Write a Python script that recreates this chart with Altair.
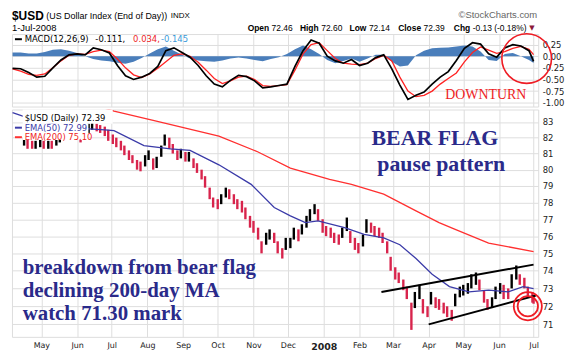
import altair as alt
import pandas as pd

# ---------------- data ----------------
# price bars: two per week (Mondays & Thursdays) 16-Apr-2007 .. 30-Jun-2008, plus 1-Jul-2008
closes = [
    81.8, 81.6, 81.5, 81.6, 81.6,
    81.5, 81.6, 81.5, 81.7, 82.0, 82.1, 82.3, 82.2, 82.2,
    82.0, 82.5, 82.6, 82.8, 82.7, 82.6, 82.5, 82.1,
    81.9, 81.7, 81.5, 81.2, 80.9, 80.6, 80.3, 80.1, 80.6,
    81.0, 80.2, 80.5, 81.2, 82.0, 81.6, 81.3, 80.9, 81.0,
    80.8, 80.8, 80.4, 80.1, 79.7, 79.2, 78.5, 78.0,
    77.9, 78.2, 78.7, 78.5, 78.2, 77.9, 77.8, 77.3, 76.8,
    76.6, 76.1, 75.3, 75.9, 76.1, 75.9, 75.3, 74.9, 75.6,
    75.6, 76.2, 76.0, 76.4, 76.9, 77.2, 77.7, 77.2, 76.6,
    76.3, 76.2, 75.9, 75.8, 76.2, 76.8, 75.9, 75.6, 75.3,
    75.8, 76.6, 76.5, 76.3, 76.2, 75.9, 75.4, 74.4,
    73.9, 73.6, 73.2, 72.8, 71.4, 72.4, 72.9, 72.0, 71.7,
    72.5, 72.2, 72.1, 71.9, 71.7, 71.5, 72.4, 72.8,
    72.9, 73.0, 73.4, 73.5, 73.2, 72.6, 72.1, 72.2, 72.8,
    73.0, 72.9, 72.7, 73.4, 73.9, 73.5, 73.3, 72.8, 72.5,
    72.39,
]
lows = [
    81.5, 81.3, 81.3, 81.3, 81.4,
    81.3, 81.3, 81.3, 81.5, 81.7, 81.9, 82.0, 82.0, 81.9,
    81.7, 82.0, 82.3, 82.5, 82.4, 82.3, 82.1, 81.8,
    81.6, 81.4, 81.2, 80.9, 80.6, 80.4, 80.0, 79.9, 80.2,
    80.6, 80.0, 80.1, 80.8, 81.5, 81.3, 81.0, 80.6, 80.7,
    80.5, 80.5, 80.1, 79.8, 79.4, 78.9, 78.2, 77.7,
    77.6, 77.9, 78.3, 78.2, 77.9, 77.6, 77.4, 77.0, 76.5,
    76.2, 75.8, 75.0, 75.5, 75.8, 75.6, 75.0, 74.7, 75.2,
    75.3, 75.8, 75.7, 76.1, 76.5, 76.9, 77.3, 76.9, 76.2,
    76.0, 75.9, 75.6, 75.5, 75.9, 76.3, 75.6, 75.2, 75.0,
    75.4, 76.2, 76.2, 76.0, 75.9, 75.6, 75.0, 74.0,
    73.5, 73.3, 72.9, 72.4, 70.7, 71.9, 72.4, 71.6, 71.4,
    72.1, 71.9, 71.8, 71.6, 71.4, 71.2, 72.0, 72.5,
    72.6, 72.7, 73.0, 73.2, 72.9, 72.2, 71.8, 71.9, 72.4,
    72.7, 72.4, 72.4, 73.0, 73.5, 73.2, 73.0, 72.5, 72.2,
    72.14,
]
highs = [
    82.0, 81.9, 81.8, 81.8, 81.9,
    81.8, 81.8, 81.8, 82.0, 82.2, 82.4, 82.5, 82.5, 82.4,
    82.3, 82.7, 82.9, 83.0, 82.9, 82.8, 82.7, 82.5,
    82.2, 82.0, 81.8, 81.5, 81.2, 80.9, 80.6, 80.5, 80.9,
    81.2, 80.7, 80.8, 81.5, 82.2, 82.0, 81.6, 81.2, 81.3,
    81.1, 81.1, 80.7, 80.4, 80.0, 79.6, 78.9, 78.3,
    78.2, 78.5, 78.9, 78.8, 78.5, 78.2, 78.1, 77.7, 77.2,
    76.9, 76.5, 75.7, 76.2, 76.4, 76.2, 75.7, 75.3, 75.9,
    75.9, 76.5, 76.4, 76.7, 77.2, 77.6, 77.9, 77.6, 77.0,
    76.6, 76.5, 76.2, 76.1, 76.5, 77.1, 76.3, 75.9, 75.6,
    76.1, 77.0, 76.8, 76.6, 76.5, 76.2, 75.7, 74.8,
    74.2, 73.9, 73.5, 73.1, 72.2, 72.8, 73.2, 72.4, 72.0,
    72.8, 72.5, 72.4, 72.2, 72.0, 71.8, 72.7, 73.1,
    73.2, 73.3, 73.8, 73.9, 73.5, 72.9, 72.4, 72.5, 73.1,
    73.3, 73.2, 73.0, 73.8, 74.3, 73.8, 73.6, 73.1, 72.8,
    72.60,
]

ema50_dates = ["2007-04-06", "2007-04-18", "2007-05-09", "2007-06-01", "2007-06-25", "2007-07-03",
               "2007-07-29", "2007-08-21", "2007-09-07", "2007-10-02", "2007-10-30", "2007-11-19",
               "2007-12-03", "2007-12-16", "2007-12-27", "2008-01-19", "2008-02-05", "2008-02-22",
               "2008-03-07", "2008-03-21", "2008-04-04", "2008-04-19", "2008-05-06", "2008-05-23",
               "2008-06-09", "2008-06-22", "2008-07-01"]
ema50_vals = [83.6, 83.3, 82.9, 82.6, 82.5, 82.45, 81.5, 81.3, 81.2, 80.3, 79.1, 77.7,
              77.2, 76.8, 76.9, 76.5, 76.1, 75.9, 75.5, 74.7, 73.8, 73.1, 72.8, 72.9,
              72.8, 73.1, 72.99]

ema200_dates = ["2007-04-06", "2007-06-20", "2007-07-03", "2007-08-06", "2007-10-02", "2007-11-05",
                "2007-12-03", "2008-01-06", "2008-01-25", "2008-02-22", "2008-03-21", "2008-04-10",
                "2008-04-24", "2008-05-23", "2008-07-01"]
ema200_vals = [84.7, 84.0, 83.7, 83.1, 82.1, 81.1, 80.1, 79.4, 79.1, 78.5, 77.5, 76.8,
               76.4, 75.6, 75.1]

# MACD panel: weekly (Fridays 6-Apr-2007 .. 27-Jun-2008) plus 1-Jul-2008
macd_vals = [-0.26, -0.27, -0.35, -0.45, -0.43, -0.25, -0.08, 0.03, 0.05, 0.03, 0.18, 0.14,
             0.07, -0.20, -0.42, -0.50, -0.45, -0.37, -0.22, 0.12, 0.18, 0.08, -0.02, -0.20,
             -0.42, -0.60, -0.66, -0.52, -0.41, -0.44, -0.53, -0.68, -0.66, -0.63, -0.60, -0.22,
             0.12, 0.35, 0.28, 0.00, -0.10, -0.15, -0.07, -0.20, -0.15, -0.03, 0.03, -0.27,
             -0.62, -0.93, -0.84, -0.77, -0.60, -0.45, -0.33, -0.09, 0.17, 0.29, 0.26, 0.05,
             -0.02, 0.18, 0.25, 0.22, 0.12, -0.111]
signal_vals = [-0.27, -0.32, -0.39, -0.41, -0.38, -0.25, -0.10, 0.02, 0.05, 0.04, 0.10, 0.13,
               0.10, -0.06, -0.25, -0.40, -0.46, -0.38, -0.26, -0.12, 0.02, 0.05, 0.00, -0.13,
               -0.30, -0.48, -0.59, -0.53, -0.45, -0.43, -0.50, -0.63, -0.65, -0.63, -0.61, -0.30,
               0.05, 0.25, 0.29, 0.12, -0.05, -0.15, -0.17, -0.18, -0.15, -0.05, 0.02, -0.10,
               -0.45, -0.75, -0.87, -0.84, -0.75, -0.60, -0.48, -0.36, -0.12, 0.08, 0.20, 0.13,
               0.06, 0.10, 0.17, 0.21, 0.15, 0.034]
hist_vals = [0.08, 0.08, 0.06, 0.06, 0.09, 0.14, 0.15, 0.12, 0.07, 0.00, -0.06, -0.09,
             -0.11, -0.14, -0.16, -0.12, -0.04, 0.06, 0.15, 0.21, 0.12, 0.03, -0.05, -0.09,
             -0.11, -0.12, -0.09, -0.05, -0.03, -0.05, -0.08, -0.11, -0.06, -0.02, 0.05, 0.15,
             0.23, 0.15, 0.05, -0.08, -0.15, -0.10, -0.05, -0.12, -0.05, 0.03, 0.03, -0.12,
             -0.22, -0.20, 0.02, 0.12, 0.17, 0.18, 0.19, 0.21, 0.23, 0.21, 0.10, -0.08,
             -0.10, 0.05, 0.07, 0.00, -0.08, -0.145]

month_starts = [(2007, 5), (2007, 6), (2007, 7), (2007, 8), (2007, 9), (2007, 10), (2007, 11),
                (2007, 12), (2008, 1), (2008, 2), (2008, 3), (2008, 4), (2008, 5), (2008, 6),
                (2008, 7)]
macd_ticks = [0.25, 0.0, -0.25, -0.5, -0.75, -1.0]
price_ticks = [71, 72, 73, 74, 75, 76, 77, 78, 79, 80, 81, 82, 83]

# ---------------- tables ----------------
bar_dates = sorted(list(pd.date_range("2007-04-16", "2008-06-30", freq="W-MON")) +
                   list(pd.date_range("2007-04-19", "2008-06-26", freq="W-THU"))) + [pd.Timestamp("2008-07-01")]
assert len(bar_dates) == len(closes) == len(lows) == len(highs)
dirs = ["up"] + ["down" if closes[i] < closes[i - 1] else "up" for i in range(1, len(closes))]
bars_df = pd.DataFrame({"date": bar_dates, "low": lows, "high": highs, "dir": dirs})

ema50_df = pd.DataFrame({"date": pd.to_datetime(ema50_dates), "v": ema50_vals})
ema200_df = pd.DataFrame({"date": pd.to_datetime(ema200_dates), "v": ema200_vals})

macd_dates = list(pd.date_range("2007-04-06", "2008-06-27", freq="W-FRI")) + [pd.Timestamp("2008-07-01")]
assert len(macd_dates) == len(macd_vals) == len(signal_vals) == len(hist_vals)
macd_df = pd.DataFrame({"date": macd_dates, "macd": macd_vals, "sig": signal_vals, "hist": hist_vals})

trend_df = pd.DataFrame({
    "line": ["u", "u", "l", "l"],
    "date": pd.to_datetime(["2008-02-20", "2008-07-01", "2008-04-01", "2008-07-03"]),
    "v": [72.8, 74.35, 71.0, 72.6],
})
circle_main_df = pd.DataFrame({"date": pd.to_datetime(["2008-06-26"]), "v": [72.0]})
circle_macd_df = pd.DataFrame({"date": pd.to_datetime(["2008-06-25"]), "v": [-0.05]})

# ---------------- styling ----------------
W = 530
H_MACD = 73
H_MAIN = 229
GRID = "#dedede"
NAVY = "#2a2a8a"
RED = "#ee1c24"
BLUE_EMA = "#3b3ba8"
SANS = "DejaVu Sans"
ARIAL = "Liberation Sans"
SERIF = "Liberation Serif"

XS = alt.Scale(domain=[alt.DateTime(year=2007, month=4, date=5, hours=12),
                       alt.DateTime(year=2008, month=7, date=5)])
month_ticks = [alt.DateTime(year=y, month=m, date=1) for (y, m) in month_starts]
YM = alt.Scale(domain=[-1.082, 0.477], nice=False, zero=False)
YP = alt.Scale(type="log", domain=[70.32, 83.8], nice=False, zero=False)

x_axis_top = alt.Axis(values=month_ticks, grid=True, gridColor=GRID, labels=False, ticks=False,
                      domain=False, title=None)
x_axis_bot = alt.Axis(
    values=month_ticks, grid=True, gridColor=GRID, ticks=False, domain=False, title=None,
    labelExpr="month(datum.value) == 0 ? timeFormat(datum.value, '%Y') : timeFormat(datum.value, '%b')",
    labelFont=SANS, labelFontSize={"condition": {"test": "month(datum.value) == 0", "value": 9.5}, "value": 8},
    labelFontWeight={"condition": {"test": "month(datum.value) == 0", "value": "bold"}, "value": "normal"},
    labelColor="#222", labelPadding=5, labelFlush=False,
)
y_axis_macd = alt.Axis(
    orient="right", values=macd_ticks, grid=True, gridColor=GRID, ticks=False, domain=False, title=None,
    labelExpr="(datum.value < 0 ? '-' : '') + format(abs(datum.value), '.2f')",
    labelFont=SANS, labelFontSize=8.5, labelColor="#222", labelPadding=4, labelFlush=False,
    labelOverlap=False,
)
y_axis_main = alt.Axis(
    orient="right", values=price_ticks, format="d", grid=True, gridColor=GRID, ticks=False, domain=False,
    title=None, labelFont=SANS, labelFontSize=8.5, labelColor="#222", labelPadding=4, labelFlush=False,
    labelOverlap=False,
)


def XT(field, axis):
    return alt.X(f"{field}:T", scale=XS, axis=axis, title=None)


def YQ(field, scale, axis):
    return alt.Y(f"{field}:Q", scale=scale, axis=axis, title=None)


def T(s, x, y, size=8.5, color="#000", weight="normal", font=SANS, align="left", baseline="middle"):
    return alt.Chart(pd.DataFrame({"t": [s]})).mark_text(
        align=align, baseline=baseline, fontSize=size, font=font, fontWeight=weight, color=color
    ).encode(text="t:N", x=alt.value(x), y=alt.value(y))


def dash(x1, x2, y, color):
    return alt.Chart(pd.DataFrame({"a": [0]})).mark_rule(color=color, strokeWidth=2).encode(
        x=alt.value(x1), x2=alt.value(x2), y=alt.value(y))


def box(x1, x2, y1, y2):
    return alt.Chart(pd.DataFrame({"a": [0]})).mark_rect(color="white").encode(
        x=alt.value(x1), x2=alt.value(x2), y=alt.value(y1), y2=alt.value(y2))


# ---------------- MACD panel ----------------
hist = alt.Chart(macd_df).mark_area(color="#4a7ebb", opacity=1).encode(
    x=XT("date", x_axis_top), y=YQ("hist", YM, y_axis_macd), y2=alt.datum(0))
sig_line = alt.Chart(macd_df).mark_line(color="#ff2222", strokeWidth=1.3).encode(
    x=XT("date", x_axis_top), y=YQ("sig", YM, y_axis_macd))
macd_line = alt.Chart(macd_df).mark_line(color="#000000", strokeWidth=1.7).encode(
    x=XT("date", x_axis_top), y=YQ("macd", YM, y_axis_macd))
macd_circle = alt.Chart(circle_macd_df).mark_point(shape="circle", filled=False, size=2500,
                                                   color=RED, strokeWidth=1.6, opacity=1).encode(
    x=XT("date", x_axis_top), y=YQ("v", YM, y_axis_macd))

HS = 8.5  # header quote-line font size
R1 = -18.5
R2 = -6.5
LG = 5.2
top = alt.layer(
    hist, sig_line, macd_line,
    dash(3, 10, LG, "#000"),
    T("MACD(12,26,9)", 12.8, LG),
    T("-0.111,", 84.0, LG),
    T("0.034,", 122.0, LG, color=RED),
    T("-0.145", 150.0, LG, color="#3a9ad9"),
    # header
    T("$USD", 0, R1, size=12, weight="bold", font=ARIAL),
    T("(US Dollar Index (End of Day))", 34.5, R1, size=9, font=ARIAL),
    T("INDX", 160, R1, size=8, font=ARIAL),
    T("\u00a9StockCharts.com", 529, R1 - 1, size=9.5, font=ARIAL, color="#666", align="right"),
    T("1-Jul-2008", 0, R2, size=9.5, font=ARIAL),
    T("Open", 237.4, R2, size=HS, font=ARIAL, weight="bold"),
    T("72.46", 261.5, R2, size=HS, font=ARIAL),
    T("High", 290.0, R2, size=HS, font=ARIAL, weight="bold"),
    T("72.60", 311.5, R2, size=HS, font=ARIAL),
    T("Low", 340.0, R2, size=HS, font=ARIAL, weight="bold"),
    T("72.14", 359.5, R2, size=HS, font=ARIAL),
    T("Close", 389.0, R2, size=HS, font=ARIAL, weight="bold"),
    T("72.39", 414.5, R2, size=HS, font=ARIAL),
    T("Chg", 445.0, R2, size=HS, font=ARIAL, weight="bold"),
    T("-0.13 (-0.18%)", 464.0, R2, size=HS, font=ARIAL),
    T("\u25bc", 521.0, R2, size=7, color="#8b1a3a"),
    T("DOWNTURN", 436.4, 65.8, size=14, font=SERIF, color=RED, baseline="alphabetic"),
    macd_circle,
).properties(width=W, height=H_MACD)

# ---------------- price panel ----------------
bars = alt.Chart(bars_df).mark_rule(strokeWidth=2.4).encode(
    x=XT("date", x_axis_bot),
    y=YQ("low", YP, y_axis_main),
    y2="high:Q",
    color=alt.Color("dir:N", scale=alt.Scale(domain=["up", "down"], range=["#000000", "#d8244c"]), legend=None),
)
ema50 = alt.Chart(ema50_df).mark_line(color=BLUE_EMA, strokeWidth=1.3, clip=True).encode(
    x=XT("date", x_axis_bot), y=YQ("v", YP, y_axis_main))
ema200 = alt.Chart(ema200_df).mark_line(color="#ff3030", strokeWidth=1.3, clip=True).encode(
    x=XT("date", x_axis_bot), y=YQ("v", YP, y_axis_main))
trend = alt.Chart(trend_df).mark_line(color="#000", strokeWidth=2).encode(
    x=XT("date", x_axis_bot), y=YQ("v", YP, y_axis_main), detail="line:N")
circ_outer = alt.Chart(circle_main_df).mark_point(shape="circle", filled=False, size=800, color=RED,
                                                  strokeWidth=1.8, opacity=1).encode(
    x=XT("date", x_axis_bot), y=YQ("v", YP, y_axis_main))
circ_inner = alt.Chart(circle_main_df).mark_point(shape="circle", filled=False, size=420, color=RED,
                                                  strokeWidth=1.8, opacity=1).encode(
    x=XT("date", x_axis_bot), y=YQ("v", YP, y_axis_main))

bottom = alt.layer(
    bars, ema200, ema50, trend,
    box(10.8, 101.5, 0, 14.4),
    box(10.8, 77.0, 14.4, 30.8),
    T("$USD (Daily) 72.39", 12.8, 8.7),
    dash(3, 10, 18.3, BLUE_EMA),
    T("EMA(50) 72.99", 12.8, 18.3, color=BLUE_EMA),
    dash(3, 10, 27.9, "#ff3030"),
    T("EMA(200) 75.10", 12.8, 27.9, color="#ee2222"),
    T("BEAR FLAG", 426, 35.5, size=22, font=SERIF, weight="bold", color=NAVY, align="center", baseline="alphabetic"),
    T("pause pattern", 432.4, 61.6, size=22, font=SERIF, weight="bold", color=NAVY, align="center", baseline="alphabetic"),
    T("breakdown from bear flag", 10.8, 165.3, size=21, font=SERIF, weight="bold", color=NAVY, baseline="alphabetic"),
    T("declining 200-day MA", 10.8, 188.7, size=21, font=SERIF, weight="bold", color=NAVY, baseline="alphabetic"),
    T("watch 71.30 mark", 10.8, 212.1, size=21, font=SERIF, weight="bold", color=NAVY, baseline="alphabetic"),
    circ_outer, circ_inner,
).properties(width=W, height=H_MAIN)

chart = alt.vconcat(top, bottom, spacing=0).properties(
    padding={"left": 0, "top": 0, "right": 0, "bottom": 0}
).configure_view(stroke="#9a9a9a", strokeWidth=1).configure(background="white")

chart.save("out.html", embed_options={"renderer": "svg", "actions": False})
